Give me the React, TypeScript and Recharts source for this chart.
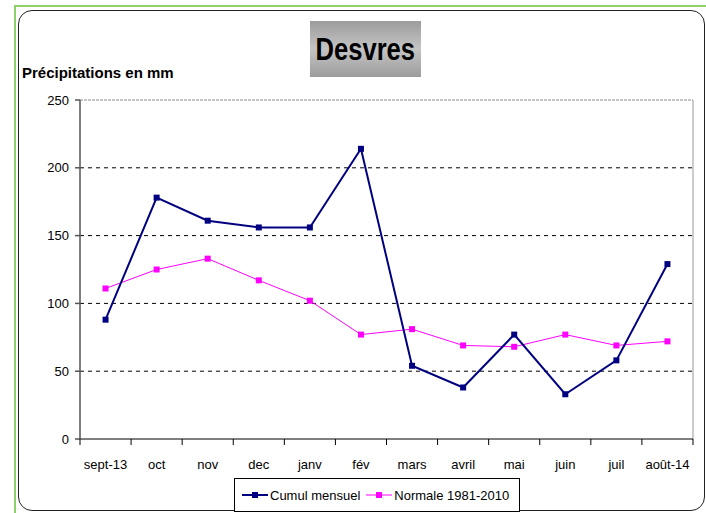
import React from 'react';
import { LineChart, Line, XAxis, YAxis, ReferenceLine } from 'recharts';

const months = ['sept-13', 'oct', 'nov', 'dec', 'janv', 'fév', 'mars', 'avril', 'mai', 'juin', 'juil', 'août-14'];
const cumulMensuel = [88, 178, 161, 156, 156, 214, 54, 38, 77, 33, 58, 129];
const normale = [111, 125, 133, 117, 102, 77, 81, 69, 68, 77, 69, 72];
const yTicks = [0, 50, 100, 150, 200, 250];
const gridLines = [50, 100, 150, 200];

const NAVY = '#000080';
const MAGENTA = '#ff00ff';
const FONT = '"Liberation Sans", Arial, sans-serif';

// points sit in the middle of each month band, ticks on the band edges
const data = months.map((m, i) => ({ x: i + 0.5, month: m, cumul: cumulMensuel[i], normale: normale[i] }));
const xTicks: number[] = [];
for (let i = 0; i <= months.length * 2; i++) xTicks.push(i / 2);

const SquareDot = (color: string, size: number) => (props: any) => {
  const { cx, cy } = props;
  if (cx == null || cy == null) return null;
  return <rect x={cx - size / 2} y={cy - size / 2} width={size} height={size} fill={color} />;
};

const MonthTick = (props: any) => {
  const { x, y, payload } = props;
  const v = payload.value as number;
  if (Number.isInteger(v)) {
    return <line x1={x} x2={x} y1={y} y2={y + 6} stroke="#000" strokeWidth={1} />;
  }
  const idx = Math.floor(v);
  return (
    <text x={x} y={y + 30} textAnchor="middle" fontSize={13} fontFamily={FONT} fill="#000">
      {months[idx]}
    </text>
  );
};

const LegendItem = ({ color, label, width }: { color: string; label: string; width: number }) => (
  <div style={{ display: 'flex', alignItems: 'center', marginRight: 6, flexShrink: 0, whiteSpace: 'nowrap' }}>
    <svg width={26} height={10} style={{ marginRight: 2, flexShrink: 0 }}>
      <line x1={0} x2={26} y1={5} y2={5} stroke={color} strokeWidth={width} />
      <rect x={10} y={2} width={6} height={6} fill={color} />
    </svg>
    <span>{label}</span>
  </div>
);

export default function App() {
  return (
    <div style={{ position: 'fixed', left: 0, top: 0, width: 706, height: 513, background: '#fff', overflow: 'hidden', fontFamily: FONT }}>
      <div style={{ position: 'absolute', left: 14, top: 5, width: 720, height: 530, borderTop: '2px solid #8ed16a', borderLeft: '2px solid #8ed16a' }} />
      <div style={{ position: 'absolute', left: 18, top: 10, width: 685, height: 499, border: '1.5px solid #222', borderRadius: 14 }} />

      <div
        style={{
          position: 'absolute', left: 310, top: 21, width: 111, height: 56,
          background: 'linear-gradient(#9c9c9c, #c4c4c4 50%, #9c9c9c)',
          display: 'flex', alignItems: 'center', justifyContent: 'center',
        }}
      >
        <span style={{ display: 'inline-block', fontWeight: 'bold', fontSize: 32, color: '#000', transform: 'scaleX(0.8)', whiteSpace: 'nowrap' }}>
          Desvres
        </span>
      </div>
      <div style={{ position: 'absolute', left: 22, top: 64, fontWeight: 'bold', fontSize: 15, color: '#000' }}>
        Précipitations en mm
      </div>

      <div style={{ position: 'absolute', left: 0, top: 0 }}>
        <LineChart width={706} height={513} data={data} margin={{ top: 100, right: 13, left: 0, bottom: 34 }}>
          <XAxis
            dataKey="x"
            type="number"
            domain={[0, months.length]}
            ticks={xTicks}
            interval={0}
            stroke="#000"
            tickLine={false}
            tickSize={0}
            tickMargin={0}
            tick={<MonthTick />}
            height={40}
          />
          <YAxis
            domain={[0, 250]}
            ticks={yTicks}
            interval={0}
            width={80}
            stroke="#555"
            strokeWidth={1.5}
            tickSize={5}
            tickMargin={6}
            tick={{ fill: '#000', fontSize: 13, fontFamily: FONT }}
          />
          {gridLines.map((g) => (
            <ReferenceLine key={g} y={g} stroke="#000" strokeDasharray="4 4" />
          ))}
          <ReferenceLine y={250} stroke="#8a8a8a" strokeDasharray="3 1" />
          <ReferenceLine x={months.length} stroke="#999" />
          <Line
            dataKey="normale"
            stroke={MAGENTA}
            strokeWidth={1}
            dot={SquareDot(MAGENTA, 6)}
            activeDot={false}
            isAnimationActive={false}
          />
          <Line
            dataKey="cumul"
            stroke={NAVY}
            strokeWidth={2}
            dot={SquareDot(NAVY, 6)}
            activeDot={false}
            isAnimationActive={false}
          />
        </LineChart>
      </div>

      <div
        style={{
          position: 'absolute', left: 234, top: 478, width: 286, height: 34,
          border: '1px solid #000', boxSizing: 'border-box', background: '#fff',
          display: 'flex', alignItems: 'center', paddingLeft: 7, fontSize: 13, color: '#000',
        }}
      >
        <LegendItem color={NAVY} label="Cumul mensuel" width={2} />
        <LegendItem color={MAGENTA} label="Normale 1981-2010" width={1} />
      </div>
    </div>
  );
}
